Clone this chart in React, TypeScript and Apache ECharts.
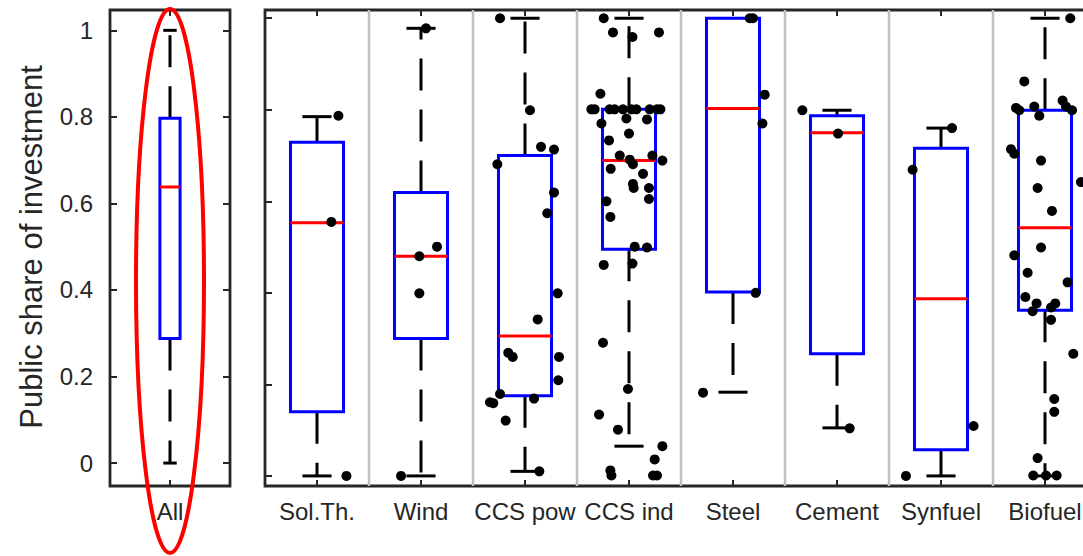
import React, { useEffect, useRef } from "react";
import * as echarts from "echarts";

// ---------- data ----------
const categories = ["Sol.Th.", "Wind", "CCS pow", "CCS ind", "Steel", "Cement", "Synfuel", "Biofuel"];
const allCategory = ["All"];
const yTickValues = [0, 0.2, 0.4, 0.6, 0.8, 1];
const separatorPositions = [0.5, 1.5, 2.5, 3.5, 4.5, 5.5, 6.5];

// All: [lower whisker, q1, median, q3, upper whisker]
const allStats = [0, 0.288, 0.638, 0.797, 1.0];

const whiskerLow = [0, 0, 0.01, 0.065, 0.183, 0.105, 0, 0];
const quartile1 = [0.14, 0.3, 0.175, 0.495, 0.402, 0.267, 0.057, 0.362];
const medians = [0.553, 0.48, 0.306, 0.689, 0.803, 0.75, 0.387, 0.542];
const quartile3 = [0.729, 0.619, 0.7, 0.801, 1.0, 0.787, 0.716, 0.799];
const whiskerHigh = [0.785, 0.978, 1.0, 1.0, 1.0, 0.799, 0.76, 1.0];

// individual responses: [horizontal jitter, public share]
const ptsSolTh = [[0.206, 0.787], [0.138, 0.555], [0.283, 0]];
const ptsWind = [[0.048, 0.978], [-0.016, 0.48], [0.154, 0.501], [-0.016, 0.399], [-0.192, 0]];
const ptsCcsPow = [
  [-0.24, 1.0], [0.048, 0.799], [0.154, 0.719], [0.279, 0.713], [-0.266, 0.681], [0.279, 0.619],
  [0.214, 0.574], [0.314, 0.399], [0.122, 0.342], [-0.161, 0.269], [-0.118, 0.26], [0.327, 0.26],
  [0.32, 0.209], [-0.24, 0.179], [-0.337, 0.161], [-0.305, 0.159], [0.087, 0.169], [-0.186, 0.121],
  [0.138, 0.01],
];
const ptsCcsInd = [
  [-0.243, 1.0], [-0.154, 0.969], [0.033, 0.959], [0.288, 0.969], [-0.275, 0.835],
  [-0.362, 0.801], [-0.33, 0.801], [-0.186, 0.801], [-0.138, 0.801], [-0.058, 0.801],
  [0.023, 0.801], [0.071, 0.801], [0.199, 0.801], [0.269, 0.801], [0.302, 0.801],
  [-0.265, 0.77], [-0.025, 0.781], [0.173, 0.779], [0.0, 0.748], [-0.192, 0.733],
  [-0.089, 0.7], [0.007, 0.691], [0.225, 0.7], [0.321, 0.689], [0.038, 0.681],
  [-0.176, 0.671], [0.135, 0.66], [0.038, 0.638], [0.045, 0.629], [0.192, 0.629],
  [0.192, 0.605], [-0.217, 0.6], [-0.179, 0.566], [0.055, 0.501], [0.173, 0.499],
  [-0.243, 0.461], [0.033, 0.464], [-0.25, 0.291], [-0.01, 0.19], [-0.288, 0.134],
  [-0.106, 0.101], [0.321, 0.065], [0.247, 0.036], [-0.179, 0.012], [-0.169, 0.001],
  [0.231, 0.001], [0.269, 0.001],
];
const ptsSteel = [[0.161, 1.0], [0.192, 1.0], [0.305, 0.833], [0.283, 0.77], [0.218, 0.4], [-0.288, 0.182]];
const ptsCement = [[-0.333, 0.799], [0.01, 0.748], [0.122, 0.104]];
const ptsSynfuel = [[0.106, 0.76], [-0.273, 0.669], [0.313, 0.109], [-0.337, 0]];
const ptsBiofuel = [
  [0.243, 1.0], [-0.199, 0.862], [-0.279, 0.804], [-0.247, 0.799], [-0.103, 0.807],
  [-0.055, 0.787], [0.169, 0.82], [0.202, 0.807], [0.26, 0.799], [-0.327, 0.714],
  [-0.295, 0.704], [-0.038, 0.689], [0.346, 0.642], [-0.071, 0.629], [0.067, 0.579],
  [-0.038, 0.499], [-0.295, 0.482], [-0.167, 0.444], [0.217, 0.423], [-0.189, 0.391],
  [-0.081, 0.377], [-0.119, 0.36], [0.099, 0.377], [0.058, 0.368], [0.058, 0.341],
  [0.272, 0.267], [0.089, 0.168], [0.089, 0.14], [-0.071, 0.039], [-0.113, 0.001],
  [0.112, 0.001], [0.01, 0.001],
];
const pointsByCategory = [ptsSolTh, ptsWind, ptsCcsPow, ptsCcsInd, ptsSteel, ptsCement, ptsSynfuel, ptsBiofuel];

// ---------- styling constants ----------
const FONT = '"Liberation Sans", Arial, Helvetica, sans-serif';
const TEXT = "#262626";
const LEFT_Y = [-0.053, 1.047];
const RIGHT_Y = [-0.022, 1.018];

function makeBoxRenderer(boxHalf: number, capHalf: number) {
  return (params: any, api: any) => {
    const x = api.value(0);
    const low = api.value(1);
    const q1 = api.value(2);
    const med = api.value(3);
    const q3 = api.value(4);
    const high = api.value(5);
    const pLow = api.coord([x, low]);
    const pQ1 = api.coord([x, q1]);
    const pMed = api.coord([x, med]);
    const pQ3 = api.coord([x, q3]);
    const pHigh = api.coord([x, high]);
    const unit = api.size([1, 0])[0];
    const bh = boxHalf * unit;
    const ch = capHalf * unit;
    const cx = pMed[0];
    const children: any[] = [];
    const dashStyle = { stroke: "#000", lineWidth: 3, lineDash: [32, 19], fill: "none" };
    const capStyle = { stroke: "#000", lineWidth: 3 };
    if (high > q3) {
      children.push({ type: "line", shape: { x1: cx, y1: pQ3[1], x2: cx, y2: pHigh[1] }, style: dashStyle });
      children.push({ type: "line", shape: { x1: cx - ch, y1: pHigh[1], x2: cx + ch, y2: pHigh[1] }, style: capStyle });
    }
    if (low < q1) {
      children.push({ type: "line", shape: { x1: cx, y1: pQ1[1], x2: cx, y2: pLow[1] }, style: dashStyle });
      children.push({ type: "line", shape: { x1: cx - ch, y1: pLow[1], x2: cx + ch, y2: pLow[1] }, style: capStyle });
    }
    children.push({
      type: "rect",
      shape: { x: cx - bh, y: pQ3[1], width: 2 * bh, height: pQ1[1] - pQ3[1] },
      style: { fill: "none", stroke: "#0000ff", lineWidth: 3 },
    });
    children.push({
      type: "line",
      shape: { x1: cx - bh, y1: pMed[1], x2: cx + bh, y2: pMed[1] },
      style: { stroke: "#ff0000", lineWidth: 3 },
    });
    return { type: "group", children };
  };
}

function separatorRenderer(params: any, api: any) {
  const x = api.value(0);
  const a = api.coord([x, RIGHT_Y[1]]);
  const b = api.coord([x, RIGHT_Y[0]]);
  return {
    type: "line",
    shape: { x1: a[0], y1: a[1], x2: b[0], y2: b[1] },
    style: { stroke: "#c0c0c0", lineWidth: 2.5 },
  };
}

const tickStyle = { show: true, inside: true, length: 7, lineStyle: { color: TEXT, width: 2 } };
const noLine = { show: false, onZero: false };

export default function App() {
  const ref = useRef<HTMLDivElement>(null);
  useEffect(() => {
    if (!ref.current) return;
    const chart = echarts.init(ref.current, null, { renderer: "svg" });

    const rightBoxData = categories.map((_, i) => [i, whiskerLow[i], quartile1[i], medians[i], quartile3[i], whiskerHigh[i]]);
    const scatterData: number[][] = [];
    pointsByCategory.forEach((pts, i) => pts.forEach(([j, v]) => scatterData.push([i + j, v])));
    const catIdx = categories.map((_, i) => i);

    const option: any = {
      animation: false,
      backgroundColor: "#ffffff",
      grid: [
        { left: 110, top: 10, width: 120, height: 476, show: true, borderColor: TEXT, borderWidth: 2.8, backgroundColor: "transparent" },
        { left: 265, top: 10, width: 832, height: 476, show: true, borderColor: TEXT, borderWidth: 2.8, backgroundColor: "transparent" },
      ],
      xAxis: [
        {
          type: "value", gridIndex: 0, min: -0.5, max: 0.5, position: "bottom",
          axisLine: noLine, splitLine: { show: false },
          axisTick: { ...tickStyle, length: 6, customValues: [0] },
          axisLabel: {
            customValues: [0], formatter: (v: number) => allCategory[Math.round(v)] ?? "",
            color: TEXT, fontSize: 24, fontFamily: FONT, margin: 13, verticalAlign: "top",
          },
        },
        {
          type: "value", gridIndex: 0, min: -0.5, max: 0.5, position: "top",
          axisLine: noLine, splitLine: { show: false },
          axisTick: { ...tickStyle, length: 6, customValues: [0] },
          axisLabel: { show: false },
        },
        {
          type: "value", gridIndex: 1, min: -0.5, max: 7.5, position: "bottom",
          axisLine: noLine, splitLine: { show: false },
          axisTick: { ...tickStyle, length: 6, customValues: catIdx },
          axisLabel: {
            customValues: catIdx, formatter: (v: number) => categories[Math.round(v)] ?? "",
            color: TEXT, fontSize: 24, fontFamily: FONT, margin: 13, verticalAlign: "top",
          },
        },
        {
          type: "value", gridIndex: 1, min: -0.5, max: 7.5, position: "top",
          axisLine: noLine, splitLine: { show: false },
          axisTick: { ...tickStyle, length: 6, customValues: catIdx },
          axisLabel: { show: false },
        },
      ],
      yAxis: [
        {
          type: "value", gridIndex: 0, min: LEFT_Y[0], max: LEFT_Y[1], position: "left",
          axisLine: noLine, splitLine: { show: false },
          axisTick: { ...tickStyle, customValues: yTickValues },
          axisLabel: {
            customValues: yTickValues, formatter: (v: number) => String(v),
            color: TEXT, fontSize: 24, fontFamily: FONT, margin: 17,
          },
        },
        {
          type: "value", gridIndex: 0, min: LEFT_Y[0], max: LEFT_Y[1], position: "right",
          axisLine: noLine, splitLine: { show: false },
          axisTick: { ...tickStyle, customValues: yTickValues },
          axisLabel: { show: false },
        },
        {
          type: "value", gridIndex: 1, min: RIGHT_Y[0], max: RIGHT_Y[1], position: "left",
          axisLine: noLine, splitLine: { show: false },
          axisTick: { ...tickStyle, customValues: yTickValues },
          axisLabel: { show: false },
        },
      ],
      series: [
        {
          type: "custom", name: "separators", xAxisIndex: 2, yAxisIndex: 2, z: 1,
          renderItem: separatorRenderer, data: separatorPositions.map((p) => [p]),
          encode: { x: 0 }, silent: true,
        },
        {
          type: "custom", name: "all", xAxisIndex: 0, yAxisIndex: 0, z: 2,
          renderItem: makeBoxRenderer(0.084, 0.056),
          data: [[0, ...allStats]],
          encode: { x: 0, y: [1, 2, 3, 4, 5] },
        },
        {
          type: "custom", name: "boxes", xAxisIndex: 2, yAxisIndex: 2, z: 2,
          renderItem: makeBoxRenderer(0.255, 0.14),
          data: rightBoxData,
          encode: { x: 0, y: [1, 2, 3, 4, 5] },
        },
        {
          type: "scatter", name: "responses", xAxisIndex: 2, yAxisIndex: 2, z: 5,
          symbol: "circle", symbolSize: 10, itemStyle: { color: "#000", opacity: 1 },
          data: scatterData,
        },
      ],
      graphic: [
        {
          type: "text", x: 31, y: 247, rotation: Math.PI / 2,
          style: {
            text: "Public share of investment", fill: TEXT,
            font: `31px ${FONT}`, align: "center", verticalAlign: "middle",
            textAlign: "center", textVerticalAlign: "middle",
          },
        },
        {
          type: "ellipse", z: 100,
          shape: { cx: 170, cy: 281, rx: 34, ry: 272 },
          style: { fill: "none", stroke: "#ff0000", lineWidth: 4 },
        },
      ],
    };
    chart.setOption(option);
    return () => chart.dispose();
  }, []);

  return <div ref={ref} style={{ position: "fixed", left: 0, top: 0, width: 1110, height: 556 }} />;
}
